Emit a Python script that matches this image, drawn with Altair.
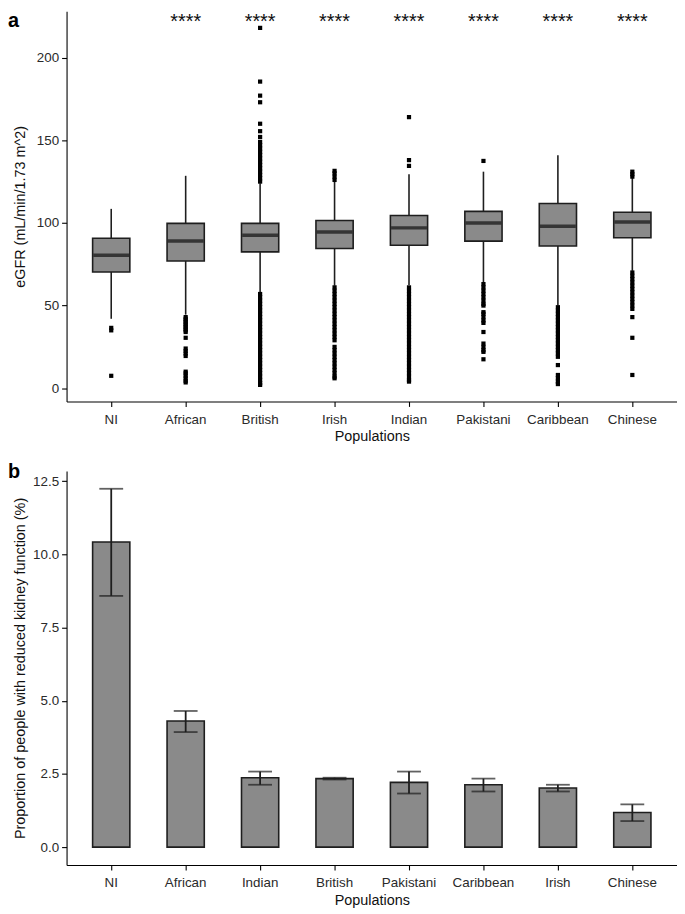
import altair as alt
import pandas as pd

FONT = "Liberation Sans"

# ---------------- panel a: eGFR box plots ----------------
top_groups = ["NI", "African", "British", "Irish", "Indian", "Pakistani", "Caribbean", "Chinese"]
whisker_low = [42, 44.5, 58, 62, 62.5, 64, 50, 71]
q1 = [70.3, 77, 82.5, 84.5, 86.5, 89, 86, 91]
median = [80.5, 89, 92.5, 94.5, 97, 100, 98, 100.5]
q3 = [90.7, 99.7, 99.7, 101.5, 104.5, 107, 111.7, 106.5]
whisker_high = [108.5, 128.5, 124, 125.5, 129.5, 131, 141, 127.5]

out_NI = [36.5, 35, 7.5]
out_African = [43, 42, 41, 40, 39, 38, 37, 36, 35, 34, 30.5, 24, 22.5, 21, 19.5,
               10, 9, 7.5, 6, 4.5, 3.5]
out_British = [57, 55, 53, 51, 49, 47, 45, 43, 41, 39, 37, 35, 33, 31, 29, 27, 25, 23,
               21, 19, 17, 15, 13, 11, 9, 7, 5, 3, 2,
               125, 127, 129, 131, 133, 135, 137, 139, 141, 143, 145, 147, 149,
               152, 155.5, 160, 173, 177, 185.5, 218]
out_Irish = [126, 128, 130, 131.5,
             61, 59, 57, 55, 53, 51, 49, 47, 45, 43, 41, 39, 37, 35, 33, 31, 29,
             25, 23, 21, 19, 17, 15, 13, 11, 9, 7, 6]
out_Indian = [134.5, 138, 164,
              61, 59, 57, 55, 53, 51, 49, 47, 45, 43, 41, 39, 37, 35, 33, 31, 29, 27,
              25, 23, 21, 19, 17, 15, 13, 11, 9, 7, 5, 4]
out_Pakistani = [137.5, 63, 61, 59, 57, 55, 53, 51, 50, 46, 45, 43, 41, 39.5,
                 34, 27, 25, 23, 22, 17.5]
out_Caribbean = [49, 47, 45, 43, 41, 39, 37, 35, 33, 31, 29, 27, 25, 23, 21, 19,
                 14, 8, 6, 4, 2.5]
out_Chinese = [128, 129.5, 131, 70, 68, 66, 64, 62, 60, 58, 56, 54, 52, 50, 48,
               43, 30.5, 8]

sig_groups = ["African", "British", "Irish", "Indian", "Pakistani", "Caribbean", "Chinese"]
sig_label = "****"

# ---------------- panel b: proportions ----------------
bottom_groups = ["NI", "African", "Indian", "British", "Pakistani", "Caribbean", "Irish", "Chinese"]
prop = [10.42, 4.31, 2.37, 2.34, 2.21, 2.13, 2.02, 1.18]
prop_lo = [8.58, 3.93, 2.13, 2.31, 1.83, 1.90, 1.90, 0.89]
prop_hi = [12.24, 4.65, 2.58, 2.37, 2.58, 2.34, 2.13, 1.46]

# ---------------- tables ----------------
box_df = pd.DataFrame({"group": top_groups, "lo": whisker_low, "q1": q1,
                       "med": median, "q3": q3, "hi": whisker_high})
out_lists = {"NI": out_NI, "African": out_African, "British": out_British,
             "Irish": out_Irish, "Indian": out_Indian, "Pakistani": out_Pakistani,
             "Caribbean": out_Caribbean, "Chinese": out_Chinese}
out_df = pd.DataFrame([{"group": g, "v": v} for g, vals in out_lists.items() for v in vals])
sig_df = pd.DataFrame({"group": sig_groups, "label": [sig_label] * len(sig_groups), "y": [218] * len(sig_groups)})
bar_df = pd.DataFrame({"group": bottom_groups, "p": prop, "lo": prop_lo, "hi": prop_hi})

FILL = "#8a8a8a"
EDGE = "#1e1e1e"
W = 615

xa = alt.X("group:N",
           scale=alt.Scale(domain=top_groups, paddingInner=0.5, paddingOuter=0.35),
           axis=alt.Axis(title="Populations", labelAngle=0))
ya_scale = alt.Scale(domain=[-8, 228], nice=False, zero=False)
ya_axis = alt.Axis(title="eGFR (mL/min/1.73 m^2)", values=[0, 50, 100, 150, 200], titlePadding=8.5)

whisk = alt.Chart(box_df).mark_rule(color=EDGE, strokeWidth=1.6).encode(
    x=xa, y=alt.Y("lo:Q", scale=ya_scale, axis=ya_axis), y2="hi:Q")
box = alt.Chart(box_df).mark_bar(fill=FILL, stroke=EDGE, strokeWidth=1.6).encode(
    x=xa, y=alt.Y("q1:Q", scale=ya_scale, axis=ya_axis), y2="q3:Q")
med = alt.Chart(box_df).mark_tick(color="#111111", thickness=3.5, size=36).encode(
    x=xa, y=alt.Y("med:Q", scale=ya_scale, axis=ya_axis))
pts = alt.Chart(out_df).mark_square(color="#000000", size=18, opacity=1).encode(
    x=xa, y=alt.Y("v:Q", scale=ya_scale, axis=ya_axis))
sig = alt.Chart(sig_df).mark_text(fontSize=20, font=FONT, color="#111111",
                                  baseline="alphabetic").encode(
    x=xa, y=alt.Y("y:Q", scale=ya_scale, axis=ya_axis), text="label:N")
lab_a = alt.Chart(pd.DataFrame({"t": ["a"]})).mark_text(
    fontSize=20, fontWeight="bold", font=FONT, align="left", baseline="alphabetic",
    color="#000000").encode(x=alt.value(-59), y=alt.value(16), text="t:N")

top = alt.layer(whisk, box, med, pts, sig, lab_a).properties(width=W, height=393)

xb = alt.X("group:N",
           scale=alt.Scale(domain=bottom_groups, paddingInner=0.5, paddingOuter=0.35),
           axis=alt.Axis(title="Populations", labelAngle=0))
yb_scale = alt.Scale(domain=[-0.61, 12.85], nice=False, zero=False)
yb_axis = alt.Axis(title="Proportion of people with reduced kidney function (%)",
                   values=[0, 2.5, 5, 7.5, 10, 12.5], format=".1f", titlePadding=5)

bars = alt.Chart(bar_df).mark_bar(fill=FILL, stroke=EDGE, strokeWidth=1.6).encode(
    x=xb, y=alt.Y("p:Q", scale=yb_scale, axis=yb_axis), y2=alt.datum(0))
err = alt.Chart(bar_df).mark_rule(color=EDGE, strokeWidth=1.8).encode(
    x=xb, y=alt.Y("lo:Q", scale=yb_scale, axis=yb_axis), y2="hi:Q")
cap_lo = alt.Chart(bar_df).mark_tick(color=EDGE, thickness=1.8, size=24).encode(
    x=xb, y=alt.Y("lo:Q", scale=yb_scale, axis=yb_axis))
cap_hi = alt.Chart(bar_df).mark_tick(color=EDGE, thickness=1.8, size=24).encode(
    x=xb, y=alt.Y("hi:Q", scale=yb_scale, axis=yb_axis))
lab_b = alt.Chart(pd.DataFrame({"t": ["b"]})).mark_text(
    fontSize=20, fontWeight="bold", font=FONT, align="left", baseline="alphabetic",
    color="#000000").encode(x=alt.value(-59), y=alt.value(7), text="t:N")

bottom = alt.layer(bars, err, cap_lo, cap_hi, lab_b).properties(width=W, height=397)

chart = alt.vconcat(top, bottom, spacing=19).properties(
    padding=0, background="white"
).configure_view(stroke=None).configure_axis(
    grid=False, domainColor="#000000", domainWidth=1.1, tickColor="#000000",
    tickSize=5, tickWidth=1.1, labelFont=FONT, labelFontSize=13.5, labelColor="#2a2a2a",
    titleFont=FONT, titleFontSize=14.5, titleFontWeight="normal",
    titleColor="#111111"
).configure_axisX(labelPadding=6, titlePadding=4).configure_axisY(labelPadding=3)

chart.save("out.html", embed_options={"renderer": "svg", "actions": False})
